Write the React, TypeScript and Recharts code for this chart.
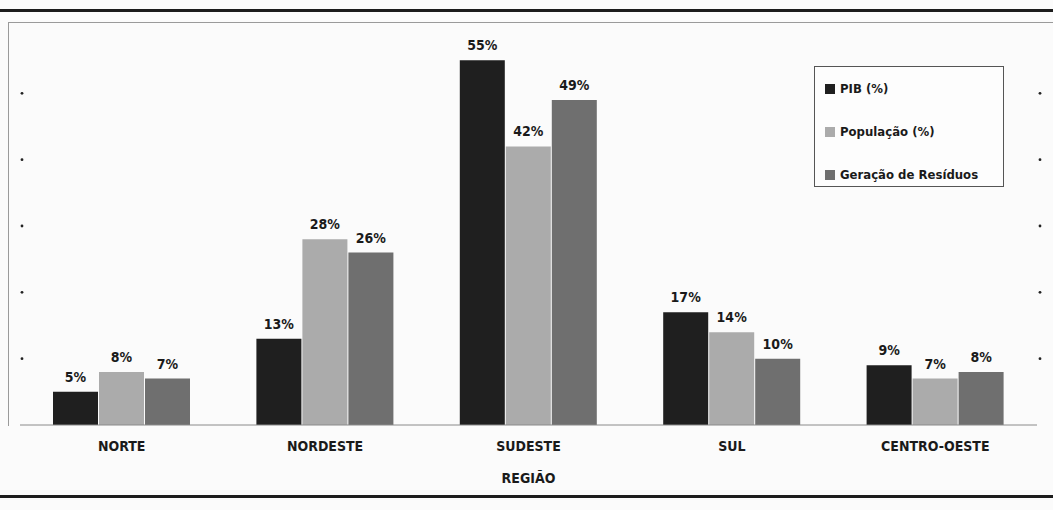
import { BarChart, Bar, XAxis, YAxis, LabelList } from 'recharts';

const regioes = ['NORTE', 'NORDESTE', 'SUDESTE', 'SUL', 'CENTRO-OESTE'];
const pib = [5, 13, 55, 17, 9];
const populacao = [8, 28, 42, 14, 7];
const residuos = [7, 26, 49, 10, 8];
const yTicks = [10, 20, 30, 40, 50];

const series = [
  { key: 'pib', name: 'PIB (%)', color: '#1f1f1f' },
  { key: 'populacao', name: 'População (%)', color: '#ababab' },
  { key: 'residuos', name: 'Geração de Resíduos', color: '#6f6f6f' },
];

const data = regioes.map((regiao, i) => ({
  regiao,
  pib: pib[i],
  populacao: populacao[i],
  residuos: residuos[i],
}));

const FONT = "'Liberation Sans Narrow', 'DejaVu Sans Condensed', 'Roboto', sans-serif";
const W = 1053;
const H = 510;
const PLOT_LEFT = 20;
const PLOT_RIGHT = 1037;

const pct = (v: number) => `${v}%`;

// y ticks are only marked by small dots on both edges of the plot
function DotTick({ y }: { y?: number }) {
  return (
    <g>
      <circle cx={PLOT_LEFT + 2} cy={y} r={1.4} fill="#222" />
      <circle cx={PLOT_RIGHT + 3} cy={y} r={1.4} fill="#222" />
    </g>
  );
}

function RegionTick({ x, y, payload }: { x?: number; y?: number; payload?: { value: string } }) {
  return (
    <text x={x} y={(y ?? 0) + 18} textAnchor="middle" fontFamily={FONT} fontWeight="bold" fontSize={14} fill="#1a1a1a">
      {payload?.value}
    </text>
  );
}

function LegendBox() {
  return (
    <div
      style={{
        position: 'absolute',
        left: 814,
        top: 66,
        border: '1px solid #555',
        width: 190,
        height: 121,
        boxSizing: 'border-box',
        padding: '0 0 0 10px',
        fontFamily: FONT,
        fontSize: 13,
        fontWeight: 'bold',
        color: '#1a1a1a',
        background: '#fdfdfd',
      }}
    >
      {series.map((s) => (
        <div key={s.key} style={{ display: 'flex', alignItems: 'center', height: 43, whiteSpace: 'nowrap' }}>
          <span style={{ width: 10, height: 10, background: s.color, marginRight: 5, display: 'inline-block' }} />
          {s.name}
        </div>
      ))}
    </div>
  );
}

export default function App() {
  return (
    <div style={{ position: 'absolute', top: 0, left: 0, width: W, height: H, background: '#fbfbfb', overflow: 'hidden' }}>
      {/* heavy rules above and below the figure */}
      <div style={{ position: 'absolute', left: 0, top: 9, width: W, height: 3, background: '#1c1c1c' }} />
      <div style={{ position: 'absolute', left: 0, top: 495, width: W, height: 3, background: '#1c1c1c' }} />
      {/* light frame round the plot */}
      <div style={{ position: 'absolute', left: 8, top: 22, width: W - 8, height: 403, borderLeft: '1px solid #9a9a9a', borderTop: '1px solid #9a9a9a' }} />
      <BarChart
        width={W}
        height={H}
        data={data}
        margin={{ top: 27, right: W - PLOT_RIGHT, bottom: 25, left: PLOT_LEFT - 2 }}
        barSize={45}
        barGap={1}
        style={{ position: 'absolute', top: 0, left: 0 }}
      >
        <XAxis
          dataKey="regiao"
          height={60}
          axisLine={{ stroke: '#8a8a8a' }}
          tickLine={false}
          tick={<RegionTick />}
          label={{ value: 'REGIÃO', position: 'insideBottom', offset: 2, fontFamily: FONT, fontWeight: 'bold', fontSize: 14, fill: '#1a1a1a' }}
        />
        <YAxis width={2} domain={[0, 60]} ticks={yTicks} axisLine={false} tickLine={false} tick={<DotTick />} />
        {series.map((s) => (
          <Bar key={s.key} dataKey={s.key} name={s.name} fill={s.color} isAnimationActive={false}>
            <LabelList dataKey={s.key} position="top" offset={10} formatter={pct} fontFamily={FONT} fontWeight="bold" fontSize={14} fill="#1a1a1a" />
          </Bar>
        ))}
      </BarChart>
      <LegendBox />
    </div>
  );
}
